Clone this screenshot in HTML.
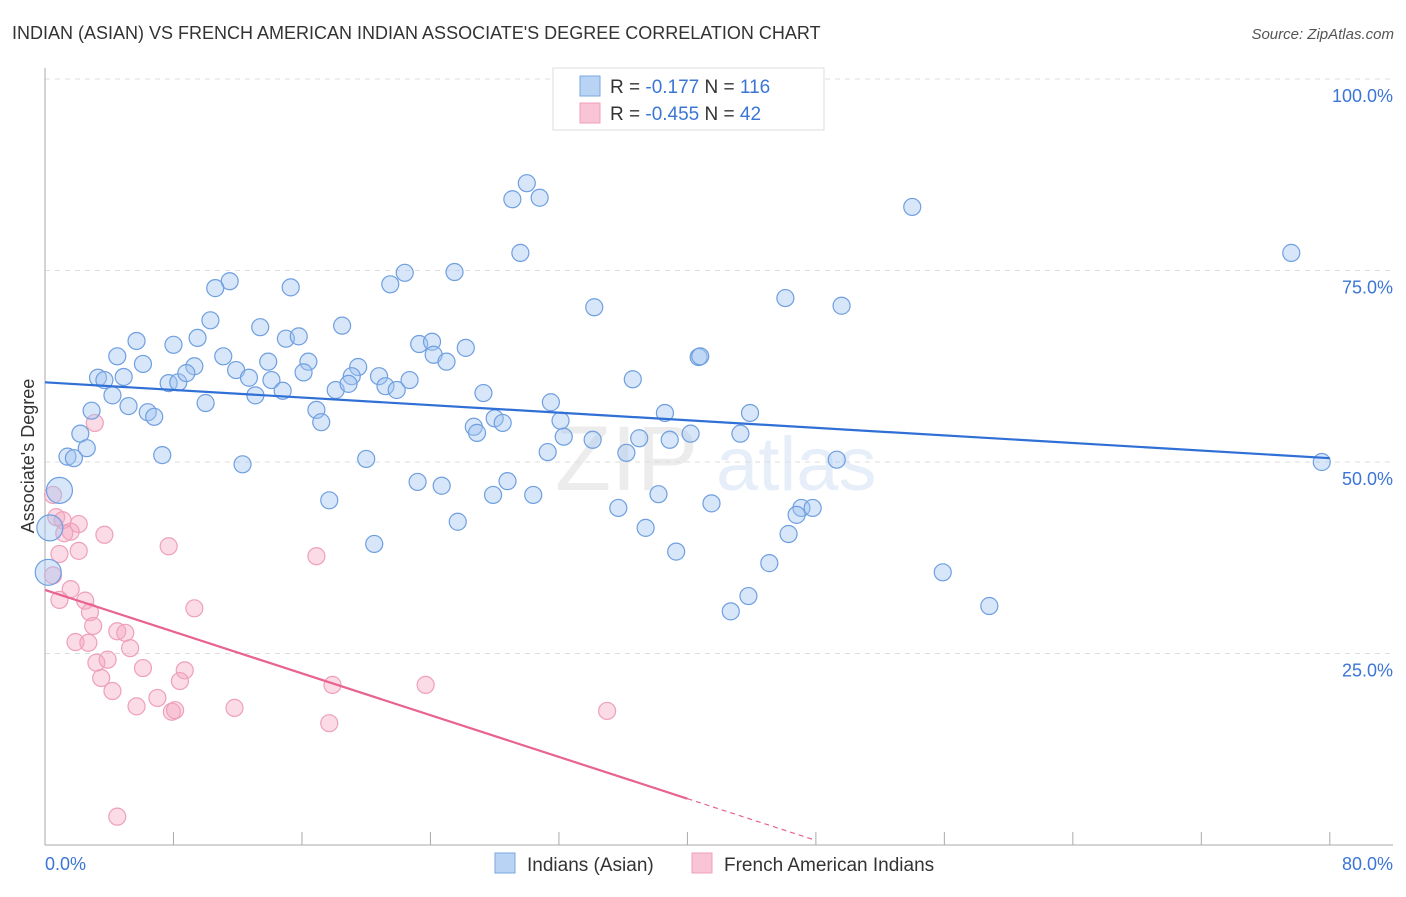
<!DOCTYPE html>
<html><head><meta charset="utf-8"><style>
body{margin:0;background:#fff;font-family:"Liberation Sans",sans-serif;}
svg text{font-family:"Liberation Sans",sans-serif;}
</style></head><body>
<svg id="chart" width="1406" height="892" xmlns="http://www.w3.org/2000/svg">
<text x="12" y="39" font-size="18" fill="#333">INDIAN (ASIAN) VS FRENCH AMERICAN INDIAN ASSOCIATE'S DEGREE CORRELATION CHART</text>
<text x="1394" y="39" font-size="15" fill="#555" text-anchor="end" font-style="italic">Source: ZipAtlas.com</text>
<g opacity="0.13"><text x="555" y="490" font-size="92" font-family="Liberation Serif" fill="#777">ZIP</text><text x="716" y="490" font-size="76" fill="#4a7fd4">atlas</text></g>
<g id="grid"></g>
<g id="axes"></g>
<g id="marks"></g>
<text transform="translate(34,456) rotate(-90)" font-size="18" fill="#333" text-anchor="middle">Associate's Degree</text>
<g>
<rect x="553" y="68" width="271" height="62" fill="#fff" stroke="#ddd"/>
<rect x="580" y="76" width="20" height="20" fill="#b9d3f5" stroke="#7aa7e0"/>
<rect x="580" y="103" width="20" height="20" fill="#f9c5d6" stroke="#f0a0bb"/>
<text x="610" y="93" font-size="19" fill="#333">R = <tspan fill="#3b76d6">-0.177</tspan>   N = <tspan fill="#3b76d6">116</tspan></text>
<text x="610" y="120" font-size="19" fill="#333">R = <tspan fill="#3b76d6">-0.455</tspan>   N =  <tspan fill="#3b76d6">42</tspan></text>
</g>
<g>
<rect x="495" y="853" width="20" height="20" fill="#b9d3f5" stroke="#7aa7e0"/>
<text x="527" y="871" font-size="19" fill="#333">Indians (Asian)</text>
<rect x="692" y="853" width="20" height="20" fill="#f9c5d6" stroke="#f0a0bb"/>
<text x="724" y="871" font-size="19" fill="#333">French American Indians</text>
</g>
</svg>
<script>
const blueX=[30.0,29.1,30.8,29.6,54.0,77.6,11.5,10.6,15.3,22.4,21.5,25.5,34.2,46.1,49.6,10.3,13.4,5.7,8.0,9.5,15.0,15.8,18.5,23.3,24.1,24.2,25.0,26.2,4.5,6.1,9.3,11.1,11.9,13.9,16.4,16.1,19.5,19.1,20.8,3.3,3.7,4.9,7.7,8.3,8.8,12.7,14.1,14.8,13.1,18.1,18.9,21.2,21.9,22.7,36.6,40.7,40.8,4.2,10.0,27.3,2.9,5.2,6.4,6.8,16.9,17.2,31.5,28.0,28.5,26.7,26.9,32.1,32.3,34.1,37.0,38.9,38.6,40.2,43.3,43.9,49.3,79.5,2.2,2.6,1.4,1.8,7.3,12.3,20.0,31.3,36.2,0.9,17.7,23.2,24.7,28.8,27.9,30.4,38.2,41.5,35.7,47.1,47.8,46.8,37.4,25.7,20.5,39.3,46.3,45.1,55.9,58.8,42.7,43.8,0.3,0.2];
const blueY=[86.4,84.3,84.5,77.3,83.3,77.3,73.6,72.7,72.8,74.7,73.2,74.8,70.2,71.4,70.4,68.5,67.6,65.8,65.3,66.2,66.1,66.4,67.8,65.4,65.7,64.0,63.1,64.9,63.8,62.8,62.5,63.8,62.0,63.1,63.1,61.7,62.4,61.2,61.2,61.0,60.7,61.1,60.3,60.4,61.6,61.0,60.7,59.3,58.7,59.4,60.2,59.9,59.4,60.7,60.8,63.7,63.8,58.7,57.7,59.0,56.7,57.3,56.5,55.9,56.8,55.2,57.8,55.7,55.1,54.6,53.8,55.4,53.3,52.9,53.1,52.9,56.4,53.7,53.7,56.4,50.3,50.0,53.7,51.8,50.7,50.5,50.9,49.7,50.4,51.3,51.2,46.3,45.0,47.4,46.9,47.5,45.7,45.7,45.8,44.6,44.0,44.0,44.0,43.1,41.4,42.2,39.3,38.3,40.6,36.8,35.6,31.2,30.5,32.5,41.4,35.6];
const blueBig=[91,114,115];
const pinkX=[3.1,0.5,0.7,1.1,2.1,1.6,1.2,0.9,2.1,3.7,7.7,16.9,1.6,0.9,2.5,2.8,9.3,3.0,4.5,5.0,1.9,2.7,5.3,3.2,3.9,6.1,8.7,3.5,8.4,4.2,7.0,5.7,7.9,8.1,11.8,17.9,23.7,35.0,17.7,4.5,0.5];
const pinkY=[55.1,45.7,42.8,42.4,41.9,40.9,40.7,38.0,38.4,40.5,39.0,37.7,33.4,32.0,31.9,30.4,30.9,28.6,27.9,27.7,26.5,26.4,25.7,23.8,24.2,23.1,22.8,21.8,21.4,20.1,19.2,18.1,17.4,17.6,17.9,20.9,20.9,17.5,15.9,3.7,35.2];
const yTicks=[25,50,75,100];
const yTickLabels=["25.0%","50.0%","75.0%","100.0%"];
const xTicks=[0,8,16,24,32,40,48,56,64,72,80];
const blueTrend=[60.4,50.5];
const pinkTrend=[33.3,0.6];
const pinkSolidEnd=40;

const NS="http://www.w3.org/2000/svg";
const sx=v=>45+v*16.06, sy=v=>845-v*7.66;
function mk(tag,attrs,parent){const e=document.createElementNS(NS,tag);for(const k in attrs)e.setAttribute(k,attrs[k]);parent.appendChild(e);return e;}
const grid=document.getElementById('grid'),axes=document.getElementById('axes'),marks=document.getElementById('marks');
yTicks.forEach((t,i)=>{
 const l=mk('line',{x1:45,x2:1393,y1:sy(t),y2:sy(t),stroke:'#ddd','stroke-dasharray':'5,5'},grid);
 
 
 const tx=mk('text',{x:1393,y:sy(t)+23,'font-size':18,fill:'#3b76d6','text-anchor':'end'},axes);
 tx.textContent=yTickLabels[i];
 
 
});
mk('line',{x1:45,x2:45,y1:68,y2:845,stroke:'#aaa'},axes);
mk('line',{x1:45,x2:1393,y1:845,y2:845,stroke:'#aaa'},axes);
xTicks.forEach(t=>{
 const l=mk('line',{x1:sx(t),x2:sx(t),y1:832,y2:845,stroke:'#aaa'},axes);
 
 
});
const x0=mk('text',{x:45,y:870,'font-size':18,fill:'#3b76d6'},axes);x0.textContent='0.0%';


const x1=mk('text',{x:1393,y:870,'font-size':18,fill:'#3b76d6','text-anchor':'end'},axes);x1.textContent='80.0%';



pinkX.forEach((x,i)=>{
 const c=mk('circle',{cx:sx(x),cy:sy(pinkY[i]),r:8.5,fill:'rgba(245,165,192,0.4)',stroke:'#eea0ba','stroke-width':1.2},marks);
 
 
});
blueX.forEach((x,i)=>{
 const big=blueBig.includes(i);
 const c=mk('circle',{cx:sx(x),cy:sy(blueY[i]),r:big?13:8.5,fill:'rgba(160,195,240,0.42)',stroke:'#6f9fe0','stroke-width':1.2},marks);
 
 
});
const bl=mk('line',{x1:sx(0),y1:sy(blueTrend[0]),x2:sx(80),y2:sy(blueTrend[1]),stroke:'#2f6fd6','stroke-width':2.2},marks);


const slope=(pinkTrend[1]-pinkTrend[0])/48;
const pl=mk('line',{x1:sx(0),y1:sy(pinkTrend[0]),x2:sx(pinkSolidEnd),y2:sy(pinkTrend[0]+slope*pinkSolidEnd),stroke:'#e8638f','stroke-width':2.2},marks);


const pd=mk('line',{x1:sx(pinkSolidEnd),y1:sy(pinkTrend[0]+slope*pinkSolidEnd),x2:sx(48),y2:sy(pinkTrend[1]),stroke:'#e8638f','stroke-width':1.2,'stroke-dasharray':'5,4'},marks);


</script>
</body></html>
